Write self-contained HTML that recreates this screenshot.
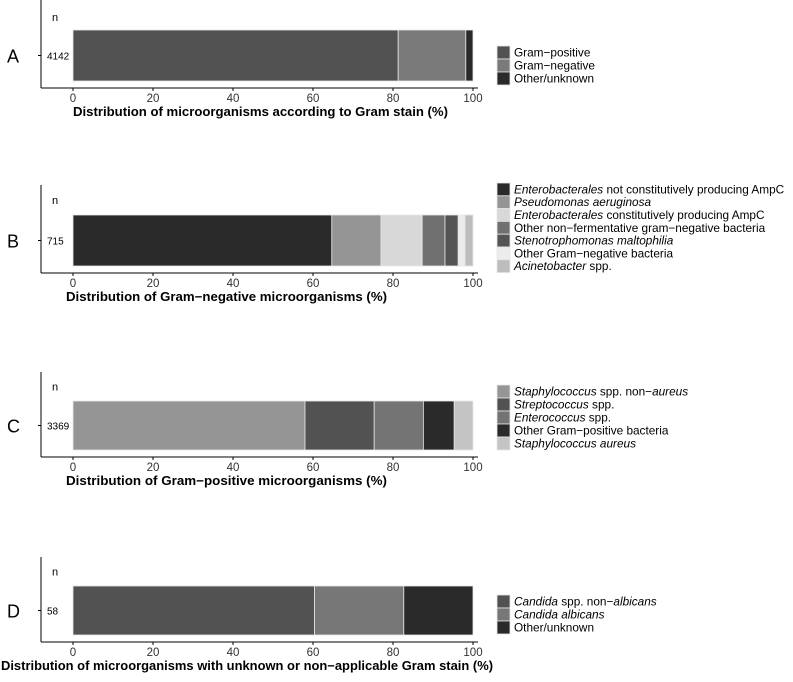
<!DOCTYPE html>
<html><head><meta charset="utf-8"><style>
body{margin:0;background:#fff;width:793px;height:677px;overflow:hidden}
svg{font-family:"Liberation Sans",sans-serif}
</style></head><body>
<svg id="c" width="793" height="677"></svg>
<script>
const panelLetters=["A","B","C","D"];
const panelN=["4142","715","3369","58"];
const panelTitles=["Distribution of microorganisms according to Gram stain (%)","Distribution of Gram\u2212negative microorganisms (%)","Distribution of Gram\u2212positive microorganisms (%)","Distribution of microorganisms with unknown or non\u2212applicable Gram stain (%)"];
const valuesA=[81.3,16.9,1.8];
const valuesB=[64.7,12.3,10.3,5.7,3.3,1.7,2.0];
const valuesC=[58.0,17.3,12.3,7.7,4.7];
const valuesD=[60.4,22.3,17.3];
const legendA=[["Gram\u2212positive"],["Gram\u2212negative"],["Other/unknown"]];
const legendB=[["Enterobacterales"," not constitutively producing AmpC"],["Pseudomonas aeruginosa",""],["Enterobacterales"," constitutively producing AmpC"],["","Other non\u2212fermentative gram\u2212negative bacteria"],["Stenotrophomonas maltophilia",""],["","Other Gram\u2212negative bacteria"],["Acinetobacter"," spp."]];
const legendC=[["Staphylococcus"," spp. non\u2212","aureus"],["Streptococcus"," spp."],["Enterococcus"," spp."],["","Other Gram\u2212positive bacteria"],["Staphylococcus aureus",""]];
const legendD=[["Candida"," spp. non\u2212","albicans"],["Candida albicans",""],["","Other/unknown"]];
const xTicks=[0,20,40,60,80,100];
const colA=["#525252","#7a7a7a","#2a2a2a"];
const colB=["#2a2a2a","#959595","#d8d8d8","#707070","#545454","#ececec","#bdbdbd"];
const colC=["#959595","#525252","#747474","#2a2a2a","#c4c4c4"];
const colD=["#525252","#777777","#2a2a2a"];
const layout=[
 {top:0,axis:88,b0:30,b1:81,leg:46},
 {top:185,axis:273,b0:215,b1:266,leg:183},
 {top:372,axis:457,b0:401,b1:450,leg:385},
 {top:557,axis:642,b0:586,b1:635,leg:595}];
const titleX=[73,66,66,1];
const titleW=[375,321,321,492];
const allVals=[valuesA,valuesB,valuesC,valuesD];
const allCols=[colA,colB,colC,colD];
const allLeg=[legendA,legendB,legendC,legendD];
const svg=document.getElementById('c');
const NS="http://www.w3.org/2000/svg";
function mk(t,a,txt){const e=document.createElementNS(NS,t);for(const k in a)e.setAttribute(k,a[k]);if(txt!==undefined)e.textContent=txt;svg.appendChild(e);return e;}
const xs=v=>73+v*4;
layout.forEach((L,p)=>{
 let e=mk('text',{x:7,y:(L.b0+L.b1)/2+7,'font-size':18,fill:'#000'},panelLetters[p]);
 
 e=mk('line',{x1:41,y1:L.top,x2:41,y2:L.axis,stroke:'#000','stroke-width':1});
 
 e=mk('line',{x1:41,y1:L.axis,x2:478,y2:L.axis,stroke:'#000','stroke-width':1});
 
 mk('line',{x1:38,y1:(L.b0+L.b1)/2,x2:41,y2:(L.b0+L.b1)/2,stroke:'#000'});
 e=mk('text',{x:52,y:L.top+(L.b0-L.top)/2+4+(p==0?2:0),'font-size':11},'n');
 
 e=mk('text',{x:47,y:(L.b0+L.b1)/2+4,'font-size':10},panelN[p]);
 
 let acc=0;
 allVals[p].forEach((v,i)=>{
  const r=mk('rect',{x:xs(acc),y:L.b0,width:xs(acc+v)-xs(acc),height:L.b1-L.b0,fill:allCols[p][i],stroke:'#e6e6e6','stroke-width':0.8});
  
  
  acc+=v;
 });
 xTicks.forEach(t=>{
  mk('line',{x1:xs(t),y1:L.axis,x2:xs(t),y2:L.axis+3,stroke:'#000'});
  const tt=mk('text',{x:xs(t),y:L.axis+14,'font-size':11.5,'text-anchor':'middle',fill:'#333'},t);
  
 });
 e=mk('text',{x:titleX[p],y:L.axis+28,'font-size':12.5,'font-weight':'bold',textLength:titleW[p],lengthAdjust:'spacingAndGlyphs'},panelTitles[p]);
 
 const legs=allLeg[p];const step=p==1?12.8:13;
 legs.forEach((lg,i)=>{
  const y=L.leg+i*step;
  const r=mk('rect',{x:497,y:y,width:13,height:step,fill:allCols[p][i],stroke:'#e6e6e6','stroke-width':0.8});
  
  const t=mk('text',{x:514,y:y+step/2+4,'font-size':11.8});
  
  lg.forEach((s,j)=>{if(!s)return;const ts=document.createElementNS(NS,'tspan');ts.textContent=s;
   const ital=(p==0)?false:(j%2==0);if(ital)ts.setAttribute('font-style','italic');t.appendChild(ts);});
 });
});
</script>
</body></html>
